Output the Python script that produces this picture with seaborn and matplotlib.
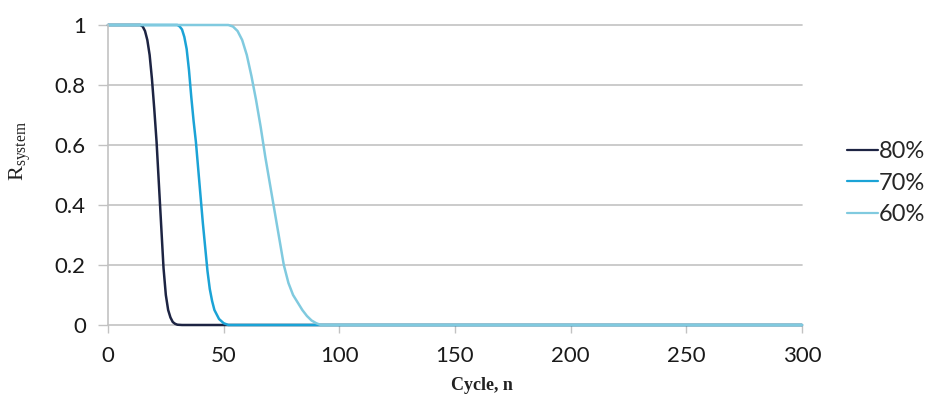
import matplotlib
matplotlib.use("Agg")
import matplotlib.pyplot as plt
import seaborn as sns
import pandas as pd

# System reliability versus cycle count for three stress levels
cycles_80 = [0, 14, 15, 16, 17, 18, 19, 20, 21, 22, 23, 24, 25, 26, 27, 28, 29, 30, 32, 300]
r_80 = [1, 1, 0.995, 0.98, 0.95, 0.9, 0.82, 0.72, 0.61, 0.47, 0.33, 0.19, 0.1, 0.05,
        0.025, 0.01, 0.004, 0.001, 0, 0]

cycles_70 = [0, 30, 31, 32, 33, 34, 35, 36, 37, 38, 39, 40, 41, 42, 43, 44, 45, 46, 48, 50, 52, 300]
r_70 = [1, 1, 0.995, 0.985, 0.96, 0.92, 0.85, 0.76, 0.68, 0.61, 0.52, 0.43, 0.34, 0.26,
        0.18, 0.12, 0.08, 0.05, 0.02, 0.006, 0, 0]

cycles_60 = [0, 52, 54, 56, 58, 60, 62, 64, 66, 68, 70, 72, 74, 76, 78, 80, 82, 84, 86, 88, 90, 92, 300]
r_60 = [1, 1, 0.995, 0.98, 0.95, 0.9, 0.83, 0.75, 0.66, 0.56, 0.47, 0.38, 0.29, 0.2,
        0.14, 0.1, 0.075, 0.05, 0.03, 0.015, 0.006, 0, 0]

labels = ["80%", "70%", "60%"]
colors = {"80%": "#1d2443", "70%": "#1ba3d6", "60%": "#80cadf"}

x_ticks = [0, 50, 100, 150, 200, 250, 300]
y_ticks = [0, 0.2, 0.4, 0.6, 0.8, 1]
y_tick_labels = ["0", "0.2", "0.4", "0.6", "0.8", "1"]

frames = []
for lab, cx, ry in zip(labels, [cycles_80, cycles_70, cycles_60], [r_80, r_70, r_60]):
    frames.append(pd.DataFrame({"cycle": cx, "R": ry, "series": lab}))
df = pd.concat(frames, ignore_index=True)

sns.set_style("white")
plt.rcParams["font.family"] = ["Lato", "DejaVu Sans"]
plt.rcParams["mathtext.fontset"] = "custom"
plt.rcParams["mathtext.rm"] = "Liberation Serif"

W, H = 935, 395
fig = plt.figure(figsize=(W / 100, H / 100), dpi=100)
ax_l, ax_r, ax_t, ax_b = 108, 802, 25, 325
ax = fig.add_axes([ax_l / W, 1 - ax_b / H, (ax_r - ax_l) / W, (ax_b - ax_t) / H])

grid_c = "#c2c2c2"
for y in y_ticks:
    ax.axhline(y, color=grid_c, lw=1.2, zorder=0, clip_on=False)

sns.lineplot(data=df, x="cycle", y="R", hue="series", hue_order=labels,
             palette=colors, lw=1.8, ax=ax, legend=True, clip_on=False)

ax.set_xlim(0, 300)
ax.set_ylim(0, 1)
ax.set_xticks(x_ticks)
ax.set_yticks(y_ticks)
ax.set_yticklabels(y_tick_labels)
ax.tick_params(axis="both", labelsize=16, colors=grid_c, labelcolor="#1a1a1a",
               width=1, direction="out")
ax.tick_params(axis="y", length=7, pad=9)
ax.tick_params(axis="x", length=6, pad=9)
ax.tick_params(left=True, bottom=True)

for side in ["top", "right", "bottom"]:
    ax.spines[side].set_visible(False)
ax.spines["left"].set_color(grid_c)
ax.spines["left"].set_linewidth(1.2)

ax.set_xlabel("Cycle, n", fontfamily="Liberation Serif", fontweight="bold",
              fontsize=13, color="#222222")
ax.xaxis.set_label_coords((482 - ax_l) / (ax_r - ax_l), (ax_b - 385) / (ax_b - ax_t))
ax.xaxis.label.set_va("center")
ax.set_ylabel(r"$\mathrm{R}_{\mathrm{system}}$", fontsize=16, color="#222222")
ax.yaxis.set_label_coords((21 - ax_l) / (ax_r - ax_l), (ax_b - 151) / (ax_b - ax_t))
ax.yaxis.label.set_va("center")

leg = ax.legend(loc="center left", bbox_to_anchor=(1 + 45 / (ax_r - ax_l), (ax_b - 183) / (ax_b - ax_t)),
                frameon=False, fontsize=17, handlelength=1.3, handletextpad=0.05,
                labelspacing=0.45, borderaxespad=0, borderpad=0)
for h in leg.get_lines():
    h.set_linewidth(1.6)

fig.savefig("out.png", dpi=100)
